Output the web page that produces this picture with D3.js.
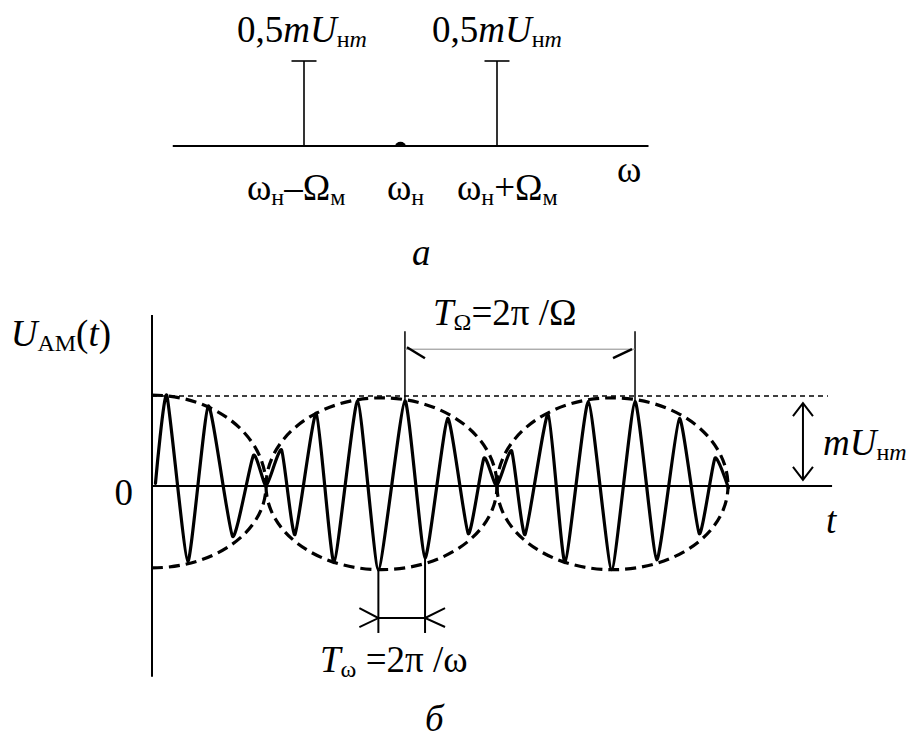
<!DOCTYPE html>
<html>
<head>
<meta charset="utf-8">
<script src="https://cdn.jsdelivr.net/npm/d3@7"></script>
<style>
  html, body { margin: 0; padding: 0; background: #fff; }
  svg text { white-space: pre; }
</style>
</head>
<body>
<svg id="fig" width="916" height="740"></svg>
<script>
// ---- Spectrum of the AM signal (panel а) ----
// frequency offsets from the carrier, in units of Ω_м
const sidebandFreq = [-1, 1];
const sidebandAmp = [0.5, 0.5];          // 0,5·mU_нm each
const carrierFreq = 0;                  // ω_н marked by a dot
const omegaAxisRange = [-2.36, 2.57];

// ---- Time waveform (panel б) ----
// t in units of the modulation period T_Ω, value in units of mU_нm
const carrierT = [0.015, 0.064, 0.155, 0.244, 0.349, 0.439, 0.494,
  0.561, 0.619, 0.711, 0.788, 0.890, 0.980, 1.095, 1.182, 1.280, 1.369, 1.437, 1.492,
  1.557, 1.615, 1.715, 1.788, 1.889, 1.990, 2.091, 2.185, 2.283, 2.369, 2.437, 2.495];
const carrierV = [0.03, 1.01, -0.84, 0.89, -0.56, 0.34, 0.0,
  0.40, -0.54, 0.81, -0.85, 0.95, -0.93, 0.95, -0.80, 0.75, -0.53, 0.31, 0.0,
  0.39, -0.54, 0.80, -0.85, 0.94, -0.93, 0.94, -0.82, 0.75, -0.53, 0.31, -0.02];

// envelope lobes: centre, half-width, upper and lower extent
const lobeCenter = [0, 0.9935, 1.9935];
const lobeHalf = [0.4935, 0.5, 0.5];
const lobeUp = [1.01, 0.98, 0.98];
const lobeDown = [-0.91, -0.93, -0.93];

const levelTop = 1.0;                   // dashed level of mU_нm
const timeAxisEnd = 2.944;
const levelLineEnd = 2.926;
const valueAxisRange = [-2.12, 1.9];

// dimension markers
const periodOmegaPeaks = [13, 25];     // indices of the peaks spanning T_Ω
const periodCarrierTroughs = [12, 14]; // indices of the troughs spanning T_ω
const amplitudeArrowT = 2.818;
const amplitudeArrowV = [0.92, 0.067];

const FONT = '"Liberation Serif", "Times New Roman", Times, serif';
const FS = 37, SUB = 24, SUBDY = 5;

const svg = d3.select('#fig');

// ---------- panel а ----------
const fx = d3.scaleLinear().domain([-1, 1]).range([304, 497]);
const fa = d3.scaleLinear().domain([0, 0.5]).range([146, 61]);

const spec = svg.append('g');
spec.append('line')
  .attr('x1', fx(omegaAxisRange[0])).attr('x2', fx(omegaAxisRange[1]))
  .attr('y1', fa(0)).attr('y2', fa(0))
  .attr('stroke', '#000').attr('stroke-width', 2);

const lines = spec.selectAll('g.sb').data(sidebandFreq.map((f, i) => ({f, a: sidebandAmp[i]})))
  .join('g').attr('class', 'sb');
lines.append('line')
  .attr('x1', d => fx(d.f)).attr('x2', d => fx(d.f))
  .attr('y1', fa(0)).attr('y2', d => fa(d.a))
  .attr('stroke', '#000').attr('stroke-width', 1.6);
lines.append('line')
  .attr('x1', d => fx(d.f) - 12.5).attr('x2', d => fx(d.f) + 12.5)
  .attr('y1', d => fa(d.a)).attr('y2', d => fa(d.a))
  .attr('stroke', '#000').attr('stroke-width', 1.6);

spec.append('path')
  .attr('d', d3.arc()({innerRadius: 0, outerRadius: 5.5, startAngle: -Math.PI / 2, endAngle: Math.PI / 2}))
  .attr('transform', `translate(${fx(carrierFreq)},${fa(0) + 0.5}) scale(1,0.85)`)
  .attr('fill', '#000');

// ---------- panel б ----------
const tx = d3.scaleLinear().domain([0, 1]).range([152, 383]);
const vy = d3.scaleLinear().domain([-1, 1]).range([576, 396]);

const wave = svg.append('g');

// axes
wave.append('line')
  .attr('x1', tx(0)).attr('x2', tx(0))
  .attr('y1', vy(valueAxisRange[1])).attr('y2', vy(valueAxisRange[0]))
  .attr('stroke', '#000').attr('stroke-width', 2);
wave.append('line')
  .attr('x1', tx(0)).attr('x2', tx(timeAxisEnd))
  .attr('y1', vy(0)).attr('y2', vy(0))
  .attr('stroke', '#000').attr('stroke-width', 2);

// dashed mU_нm level
wave.append('line')
  .attr('x1', tx(0)).attr('x2', tx(levelLineEnd))
  .attr('y1', vy(levelTop)).attr('y2', vy(levelTop))
  .attr('stroke', '#000').attr('stroke-width', 1.6)
  .attr('stroke-dasharray', '5,4');

// dashed envelope (elliptic lobes)
const y0 = vy(0);
lobeCenter.forEach((c, i) => {
  const left = c - lobeHalf[i], right = c + lobeHalf[i];
  const rx = tx(right) - tx(c);
  const ryU = y0 - vy(lobeUp[i]);
  const ryD = vy(lobeDown[i]) - y0;
  let upper, lower;
  if (left < 0) {
    upper = `M${tx(c)},${vy(lobeUp[i])} A${rx},${ryU} 0 0 1 ${tx(right)},${y0}`;
    lower = `M${tx(c)},${vy(lobeDown[i])} A${rx},${ryD} 0 0 0 ${tx(right)},${y0}`;
  } else {
    upper = `M${tx(left)},${y0} A${rx},${ryU} 0 0 1 ${tx(right)},${y0}`;
    lower = `M${tx(left)},${y0} A${rx},${ryD} 0 0 0 ${tx(right)},${y0}`;
  }
  [upper, lower].forEach(d => wave.append('path')
    .attr('d', d).attr('fill', 'none')
    .attr('stroke', '#000').attr('stroke-width', 3.2)
    .attr('stroke-dasharray', '11,6'));
});

// modulated carrier
const pts = carrierT.map((t, i) => [t, carrierV[i]]);
wave.append('path')
  .attr('d', d3.line().x(d => tx(d[0])).y(d => vy(d[1])).curve(d3.curveCardinal.tension(0.5))(pts))
  .attr('fill', 'none').attr('stroke', '#000').attr('stroke-width', 3.2)
  .attr('stroke-linejoin', 'round').attr('stroke-linecap', 'round');

// T_Ω dimension
const pA = pts[periodOmegaPeaks[0]], pB = pts[periodOmegaPeaks[1]];
const dimTopV = 1.72, dimLineV = 1.52;
[pA, pB].forEach(p => wave.append('line')
  .attr('x1', tx(p[0])).attr('x2', tx(p[0]))
  .attr('y1', vy(dimTopV)).attr('y2', vy(p[1]) - 1)
  .attr('stroke', '#000').attr('stroke-width', 1.5));
wave.append('line')
  .attr('x1', tx(pA[0])).attr('x2', tx(pB[0]))
  .attr('y1', vy(dimLineV)).attr('y2', vy(dimLineV))
  .attr('stroke', '#888').attr('stroke-width', 1);
wave.append('line')
  .attr('x1', tx(pA[0]) + 2).attr('y1', vy(dimLineV) - 2)
  .attr('x2', tx(pA[0]) + 20).attr('y2', vy(dimLineV) + 9)
  .attr('stroke', '#000').attr('stroke-width', 2.5);
wave.append('line')
  .attr('x1', tx(pB[0]) - 3).attr('y1', vy(dimLineV))
  .attr('x2', tx(pB[0]) - 22).attr('y2', vy(dimLineV) + 9)
  .attr('stroke', '#000').attr('stroke-width', 2.5);

// T_ω dimension
const qA = pts[periodCarrierTroughs[0]], qB = pts[periodCarrierTroughs[1]];
const dimBotV = -1.633, dimLine2V = -1.467;
[qA, qB].forEach(p => wave.append('line')
  .attr('x1', tx(p[0])).attr('x2', tx(p[0]))
  .attr('y1', vy(p[1])).attr('y2', vy(dimBotV))
  .attr('stroke', '#000').attr('stroke-width', 2));
wave.append('line')
  .attr('x1', tx(qA[0])).attr('x2', tx(qB[0]))
  .attr('y1', vy(dimLine2V)).attr('y2', vy(dimLine2V))
  .attr('stroke', '#000').attr('stroke-width', 2);
const yy = vy(dimLine2V);
wave.append('path')
  .attr('d', `M${tx(qA[0]) - 19},${yy - 10} L${tx(qA[0])},${yy} L${tx(qA[0]) - 19},${yy + 9}`)
  .attr('fill', 'none').attr('stroke', '#000').attr('stroke-width', 2);
wave.append('path')
  .attr('d', `M${tx(qB[0]) + 20},${yy - 10} L${tx(qB[0])},${yy} L${tx(qB[0]) + 20},${yy + 9}`)
  .attr('fill', 'none').attr('stroke', '#000').attr('stroke-width', 2);

// mU_нm double arrow
const ax = tx(amplitudeArrowT), ay1 = vy(amplitudeArrowV[0]), ay2 = vy(amplitudeArrowV[1]);
wave.append('line').attr('x1', ax).attr('x2', ax).attr('y1', ay1).attr('y2', ay2)
  .attr('stroke', '#000').attr('stroke-width', 2);
wave.append('path')
  .attr('d', `M${ax - 10},${ay1 + 13} L${ax},${ay1} L${ax + 10},${ay1 + 13} M${ax - 10},${ay2 - 13} L${ax},${ay2} L${ax + 10},${ay2 - 13}`)
  .attr('fill', 'none').attr('stroke', '#000').attr('stroke-width', 2);

// ---------- text ----------
function rich(x, y, parts, anchor) {
  const t = svg.append('text')
    .attr('x', x).attr('y', y)
    .attr('font-family', FONT).attr('font-size', FS)
    .attr('text-anchor', anchor || 'start').attr('fill', '#000');
  let shift = 0;
  parts.forEach(p => {
    const target = p.sub ? SUBDY : 0;
    const ts = t.append('tspan').text(p.t);
    if (target !== shift) { ts.attr('dy', target - shift); shift = target; }
    if (p.sub) ts.attr('font-size', SUB);
    if (p.i) ts.attr('font-style', 'italic');
  });
  return t;
}

const ampLabel = [{t: '0,5'}, {t: 'm', i: true}, {t: 'U', i: true}, {t: 'н', sub: true}, {t: 'm', i: true, sub: true}];
rich(237, 42, ampLabel);
rich(432, 42, ampLabel);
rich(247, 200, [{t: 'ω'}, {t: 'н', sub: true}, {t: '–'}, {t: 'Ω'}, {t: 'м', sub: true}]);
rich(387, 200, [{t: 'ω'}, {t: 'н', sub: true}]);
rich(457, 200, [{t: 'ω'}, {t: 'н', sub: true}, {t: '+'}, {t: 'Ω'}, {t: 'м', sub: true}]);
rich(617, 182, [{t: 'ω'}]);
rich(412, 265, [{t: 'а', i: true}]);

rich(111, 346, [{t: 'U', i: true}, {t: 'АМ', sub: true}, {t: '('}, {t: 't', i: true}, {t: ')'}], 'end');
rich(133, 505, [{t: '0'}], 'end');
rich(433, 325, [{t: 'T', i: true}, {t: 'Ω', sub: true}, {t: '=2π /Ω'}]);
rich(823, 455, [{t: 'm', i: true}, {t: 'U', i: true}, {t: 'н', sub: true}, {t: 'm', i: true, sub: true}]);
rich(826, 533, [{t: 't', i: true}]);
rich(320, 672, [{t: 'T', i: true}, {t: 'ω', sub: true}, {t: ' =2π /ω'}]);
rich(425, 731, [{t: 'б', i: true}]);
</script>
</body>
</html>
